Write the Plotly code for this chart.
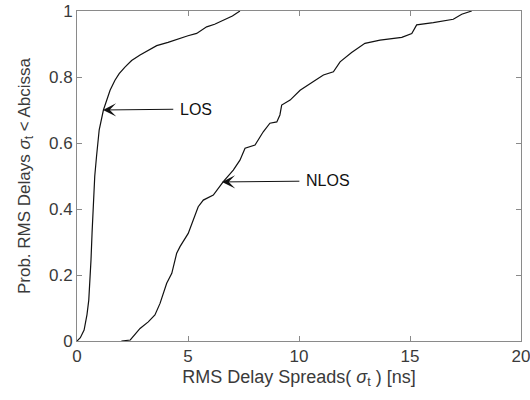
import plotly.graph_objects as go

# LOS empirical CDF (RMS delay spread in ns, probability)
los_x = [0.0, 0.15, 0.32, 0.45, 0.53, 0.6, 0.63, 0.68, 0.73, 0.8, 0.88, 0.93, 1.0, 1.19,
         1.35, 1.49, 1.71, 1.9, 2.16, 2.46, 2.84, 3.2, 3.59, 4.1, 4.6, 5.0, 5.39, 5.84,
         6.2, 6.58, 7.0, 7.34]
los_p = [0.0, 0.01, 0.033, 0.08, 0.124, 0.19, 0.245, 0.33, 0.427, 0.5, 0.56, 0.60, 0.64, 0.70,
         0.73, 0.76, 0.79, 0.81, 0.83, 0.85, 0.867, 0.88, 0.895, 0.905, 0.917, 0.925, 0.932, 0.952,
         0.96, 0.973, 0.985, 1.0]

# NLOS empirical CDF
nlos_x = [2.0, 2.4, 2.84, 3.21, 3.51, 3.74, 4.04, 4.27, 4.49, 4.64, 5.01, 5.24, 5.46, 5.69,
          6.14, 6.59, 7.04, 7.34, 7.57, 8.02, 8.39, 8.69, 9.0, 9.14, 9.22, 9.6, 10.05, 10.65,
          11.1, 11.55, 11.85, 12.37, 12.97, 13.65, 14.63, 15.08, 15.3, 16.05, 16.95, 17.33, 17.78]
nlos_p = [0.0, 0.003, 0.038, 0.058, 0.079, 0.114, 0.175, 0.205, 0.266, 0.286, 0.326, 0.367, 0.407, 0.427,
          0.442, 0.483, 0.518, 0.548, 0.584, 0.594, 0.634, 0.66, 0.664, 0.685, 0.715, 0.73, 0.76, 0.786,
          0.806, 0.816, 0.846, 0.874, 0.902, 0.912, 0.92, 0.932, 0.958, 0.965, 0.975, 0.99, 1.0]

x_ticks = [0, 5, 10, 15, 20]
y_ticks = [0, 0.2, 0.4, 0.6, 0.8, 1]
y_tick_labels = ["0", "0.2", "0.4", "0.6", "0.8", "1"]

# annotations: label, arrow tip (x, y), label centre (arrow tail side)
labels = ["LOS", "NLOS"]
tip_x = [1.17, 6.53]
tip_y = [0.70, 0.482]
label_cx = [5.35, 11.3]
label_cy = [0.703, 0.485]

FONT = "Liberation Sans, Arial, Helvetica, sans-serif"
AX = "#8a8a8a"
TXT = "#3a3a3a"

fig = go.Figure()
fig.add_trace(go.Scatter(x=los_x, y=los_p, mode="lines",
                         line=dict(color="#111111", width=1.2), showlegend=False))
fig.add_trace(go.Scatter(x=nlos_x, y=nlos_p, mode="lines",
                         line=dict(color="#111111", width=1.2), showlegend=False))

for lab, tx, ty, cx, cy in zip(labels, tip_x, tip_y, label_cx, label_cy):
    fig.add_annotation(x=tx, y=ty, ax=cx, ay=cy, xref="x", yref="y", axref="x", ayref="y",
                       text=lab, showarrow=True, arrowhead=3, arrowsize=2.2, arrowwidth=1,
                       arrowcolor="#111111", borderpad=6, bordercolor="rgba(0,0,0,0)",
                       font=dict(family=FONT, size=16, color="#111111"))

axis_common = dict(showline=True, linecolor=AX, linewidth=1, mirror="ticks",
                   ticks="inside", ticklen=5, tickcolor=AX, showgrid=False, zeroline=False,
                   automargin=False, ticklabeloverflow="allow",
                   tickfont=dict(family=FONT, size=17, color=TXT))

fig.update_xaxes(range=[0, 20], tickvals=x_ticks, ticktext=[str(v) for v in x_ticks],
                 title=dict(text="RMS Delay Spreads( <i>σ</i><sub>t</sub> ) [ns]",
                            font=dict(family=FONT, size=18, color=TXT), standoff=4),
                 **axis_common)
fig.update_yaxes(range=[0, 1], tickvals=y_ticks, ticktext=y_tick_labels,
                 title=dict(text="Prob. RMS Delays <i>σ</i><sub>t</sub> &lt; Abcissa",
                            font=dict(family=FONT, size=17, color=TXT), standoff=14),
                 **axis_common)

fig.update_layout(width=530, height=400, margin=dict(l=77, r=9, t=11, b=59),
                  plot_bgcolor="white", paper_bgcolor="white",
                  font=dict(family=FONT, color=TXT))

fig.write_html("out.html", config={"displayModeBar": False},
               post_script="document.body.style.margin='0';")
